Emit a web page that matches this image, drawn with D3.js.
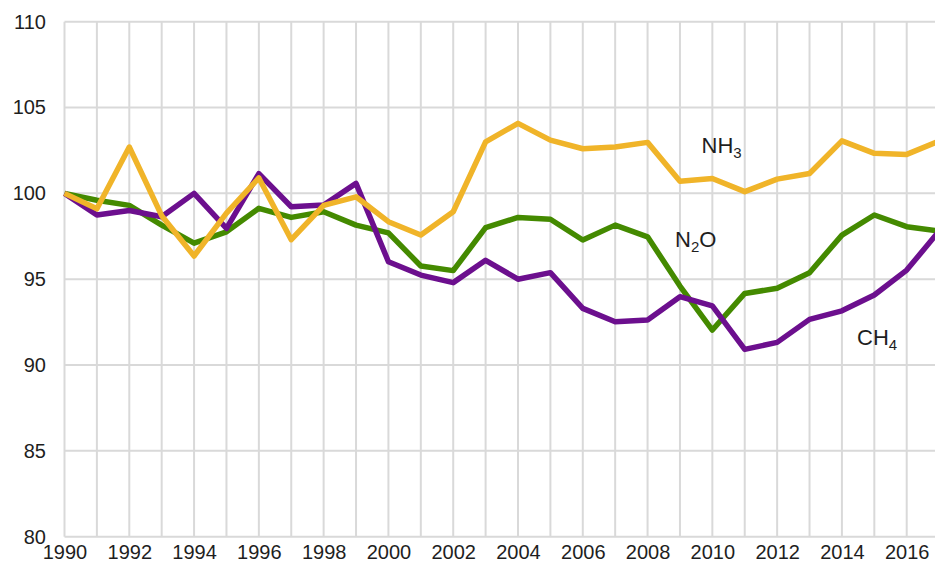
<!DOCTYPE html>
<html>
<head>
<meta charset="utf-8">
<script src="https://cdn.jsdelivr.net/npm/d3@7"></script>
<style>
  html, body { margin: 0; padding: 0; background: #fff; }
  svg { display: block; font-family: "Liberation Sans", Arial, sans-serif; }
</style>
</head>
<body>
<svg id="chart" width="935" height="565"></svg>
<script>
const years = d3.range(1990, 2018);
const nh3 = [100, 99.1, 102.7, 98.7, 96.35, 98.85, 100.9, 97.3, 99.3, 99.8, 98.35, 97.57, 98.93, 103.0, 104.08, 103.1, 102.6, 102.7, 102.97, 100.7, 100.87, 100.1, 100.83, 101.16, 103.06, 102.33, 102.27, 103.05];
const ch4 = [100, 98.74, 99.0, 98.64, 100.0, 97.96, 101.15, 99.22, 99.32, 100.58, 96.02, 95.24, 94.8, 96.1, 95.0, 95.38, 93.3, 92.52, 92.62, 93.98, 93.44, 90.91, 91.32, 92.66, 93.16, 94.08, 95.53, 97.8];
const n2o = [100, 99.6, 99.3, 98.15, 97.1, 97.76, 99.13, 98.6, 98.93, 98.15, 97.7, 95.77, 95.5, 98.0, 98.6, 98.49, 97.28, 98.15, 97.47, 94.6, 92.04, 94.17, 94.47, 95.38, 97.57, 98.74, 98.06, 97.8];
const yTicks = [80, 85, 90, 95, 100, 105, 110];
const xTickLabels = d3.range(1990, 2017, 2);

const seriesList = [
  { name: "N2O", values: n2o, color: "#448a00" },
  { name: "CH4", values: ch4, color: "#6c0f8e" },
  { name: "NH3", values: nh3, color: "#f0b429" }
];
const labels = [
  { main: "NH", sub: "3", tail: "", x: 701.5, y: 153 },
  { main: "N", sub: "2", tail: "O", x: 675, y: 247 },
  { main: "CH", sub: "4", tail: "", x: 857, y: 344.5 }
];

const svg = d3.select("#chart");
const x = d3.scaleLinear().domain([1990, 2017]).range([64.5, 939.1]);
const y = d3.scaleLinear().domain([80, 110]).range([536.7, 21.7]);

// gridlines
const grid = svg.append("g");
grid.selectAll("line.v").data(years).join("line")
  .attr("x1", d => x(d)).attr("x2", d => x(d))
  .attr("y1", y(110)).attr("y2", y(80))
  .attr("stroke", "#d9d9d9").attr("stroke-width", 2);
grid.selectAll("line.h").data(yTicks).join("line")
  .attr("x1", x(1990)).attr("x2", 935)
  .attr("y1", d => y(d)).attr("y2", d => y(d))
  .attr("stroke", "#d9d9d9").attr("stroke-width", 2);

// y axis labels
const yAxis = svg.append("g").attr("transform", "translate(46,0)")
  .call(d3.axisLeft(y).tickValues(yTicks).tickSize(0).tickPadding(0).tickFormat(d3.format("d")));
yAxis.select(".domain").remove();
yAxis.selectAll("text").attr("font-size", 20).attr("fill", "#1e1e1e")
  .attr("font-family", "Liberation Sans, Arial, sans-serif");

// x axis labels
const xAxis = svg.append("g").attr("transform", "translate(0,545)")
  .call(d3.axisBottom(x).tickValues(xTickLabels).tickSize(0).tickPadding(0).tickFormat(d3.format("d")));
xAxis.select(".domain").remove();
xAxis.selectAll("text").attr("font-size", 20).attr("fill", "#1e1e1e")
  .attr("font-family", "Liberation Sans, Arial, sans-serif");

// lines
const line = d3.line().x((d, i) => x(years[i])).y(d => y(d));
svg.append("g").selectAll("path").data(seriesList).join("path")
  .attr("d", d => line(d.values))
  .attr("fill", "none")
  .attr("stroke", d => d.color)
  .attr("stroke-width", 5.5)
  .attr("stroke-linejoin", "round")
  .attr("stroke-linecap", "butt");

// series labels
labels.forEach(l => {
  const t = svg.append("text").attr("x", l.x).attr("y", l.y)
    .attr("font-size", 22).attr("fill", "#1e1e1e");
  t.append("tspan").text(l.main);
  t.append("tspan").attr("font-size", 15).attr("dy", 5).text(l.sub);
  if (l.tail) t.append("tspan").attr("dy", -5).text(l.tail);
});
</script>
</body>
</html>
